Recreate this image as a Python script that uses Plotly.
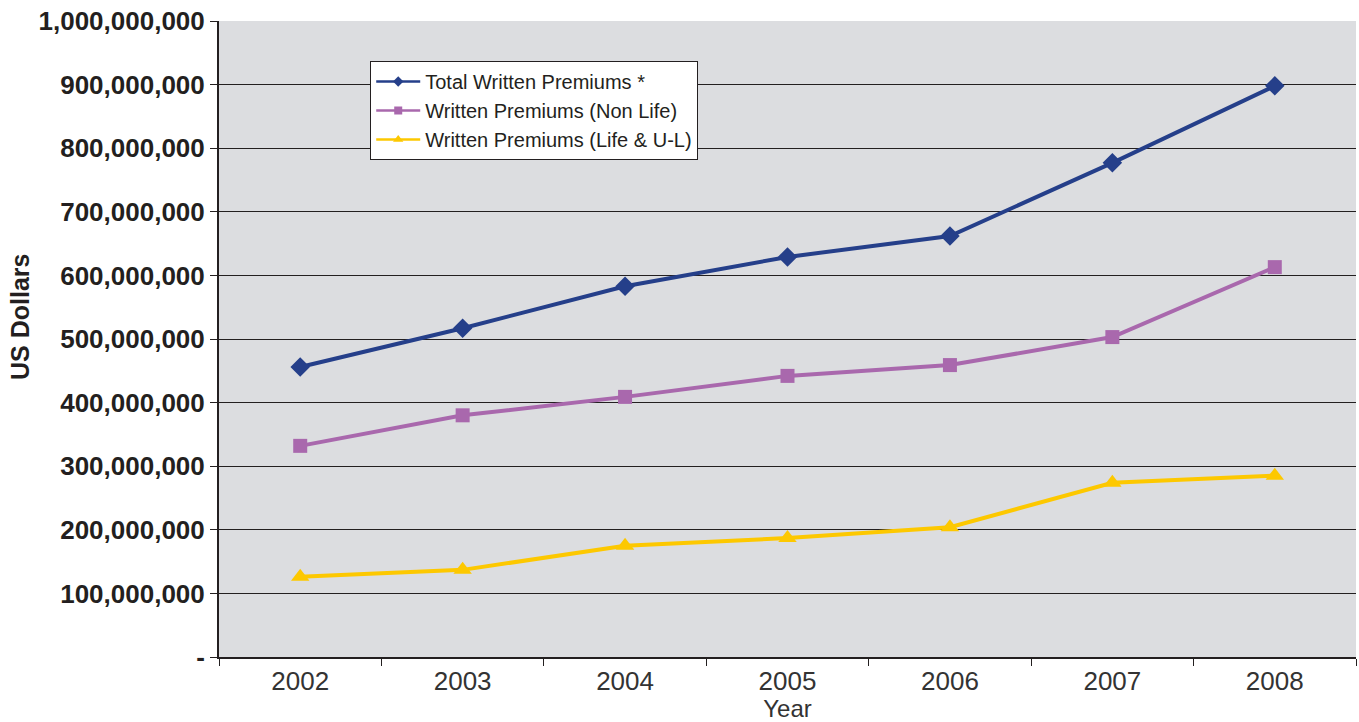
import plotly.graph_objects as go

years = ["2002", "2003", "2004", "2005", "2006", "2007", "2008"]
total_premiums = [456e6, 517e6, 583e6, 629e6, 662e6, 777e6, 898e6]
non_life_premiums = [332e6, 380e6, 409e6, 442e6, 459e6, 503e6, 613e6]
life_premiums = [126e6, 137e6, 175e6, 187e6, 204e6, 274e6, 285e6]

series_names = ["Total Written Premiums *", "Written Premiums (Non Life)", "Written Premiums (Life & U-L)"]
series_values = [total_premiums, non_life_premiums, life_premiums]
series_colors = ["#253f8a", "#a968ad", "#fdc800"]
series_symbols = ["diamond", "square", "triangle-up"]
marker_sizes = [15, 14, 16]
legend_marker_sizes = [8, 8, 9]

y_tick_values = [i * 100_000_000 for i in range(11)]
y_tick_labels = ["-"] + [f"{v:,}" for v in y_tick_values[1:]]

fig = go.Figure()
for name, vals, color, sym, ms in zip(series_names, series_values, series_colors, series_symbols, marker_sizes):
    fig.add_trace(go.Scatter(
        x=years, y=vals, name=name, legendgroup=name, showlegend=False,
        mode="lines+markers",
        line=dict(color=color, width=4),
        marker=dict(symbol=sym, size=ms, color=color),
    ))

# legend keys with smaller symbols and thinner lines
for name, color, sym, lms in zip(series_names, series_colors, series_symbols, legend_marker_sizes):
    fig.add_trace(go.Scatter(
        x=[None], y=[None], name=name, legendgroup=name, showlegend=True,
        mode="lines+markers",
        line=dict(color=color, width=2.5),
        marker=dict(symbol=sym, size=lms, color=color),
    ))

fig.add_annotation(
    text="<b>US Dollars</b>", textangle=-90,
    xref="paper", yref="paper",
    x=-219 / 1137 + 20 / 1137, y=(657 - 317) / 636,
    xanchor="center", yanchor="middle", showarrow=False,
    font=dict(size=25, color="#231f20"),
)

fig.update_layout(
    width=1359, height=722,
    margin=dict(l=219, r=3, t=21, b=65),
    paper_bgcolor="white",
    plot_bgcolor="#dcdde0",
    font=dict(family="Liberation Sans, Arial, sans-serif", color="#231f20"),
    showlegend=True,
    legend=dict(
        x=0.133, y=0.937, xanchor="left", yanchor="top",
        bgcolor="white", bordercolor="#231f20", borderwidth=1,
        font=dict(size=20, color="#231f20"),
        itemwidth=44,
        tracegroupgap=0,
    ),
    xaxis=dict(
        type="category",
        tickson="boundaries",
        ticks="outside", ticklen=7, tickcolor="#231f20", tickwidth=1,
        showline=True, linecolor="#231f20", linewidth=2,
        showgrid=False,
        tickfont=dict(size=26, color="#333333"),
        title=dict(text="Year", font=dict(size=24, color="#333333"), standoff=0),
        range=[-0.5, 6.5],
    ),
    yaxis=dict(
        range=[0, 1e9],
        tickmode="array", tickvals=y_tick_values, ticktext=y_tick_labels,
        ticks="outside", ticklen=7, tickcolor="#231f20", tickwidth=1,
        showline=True, linecolor="#231f20", linewidth=2,
        showgrid=True, gridcolor="#231f20", gridwidth=1,
        zeroline=False,
        tickfont=dict(size=26, color="#231f20", weight="bold"),
    ),
)

fig.write_html("out.html")
